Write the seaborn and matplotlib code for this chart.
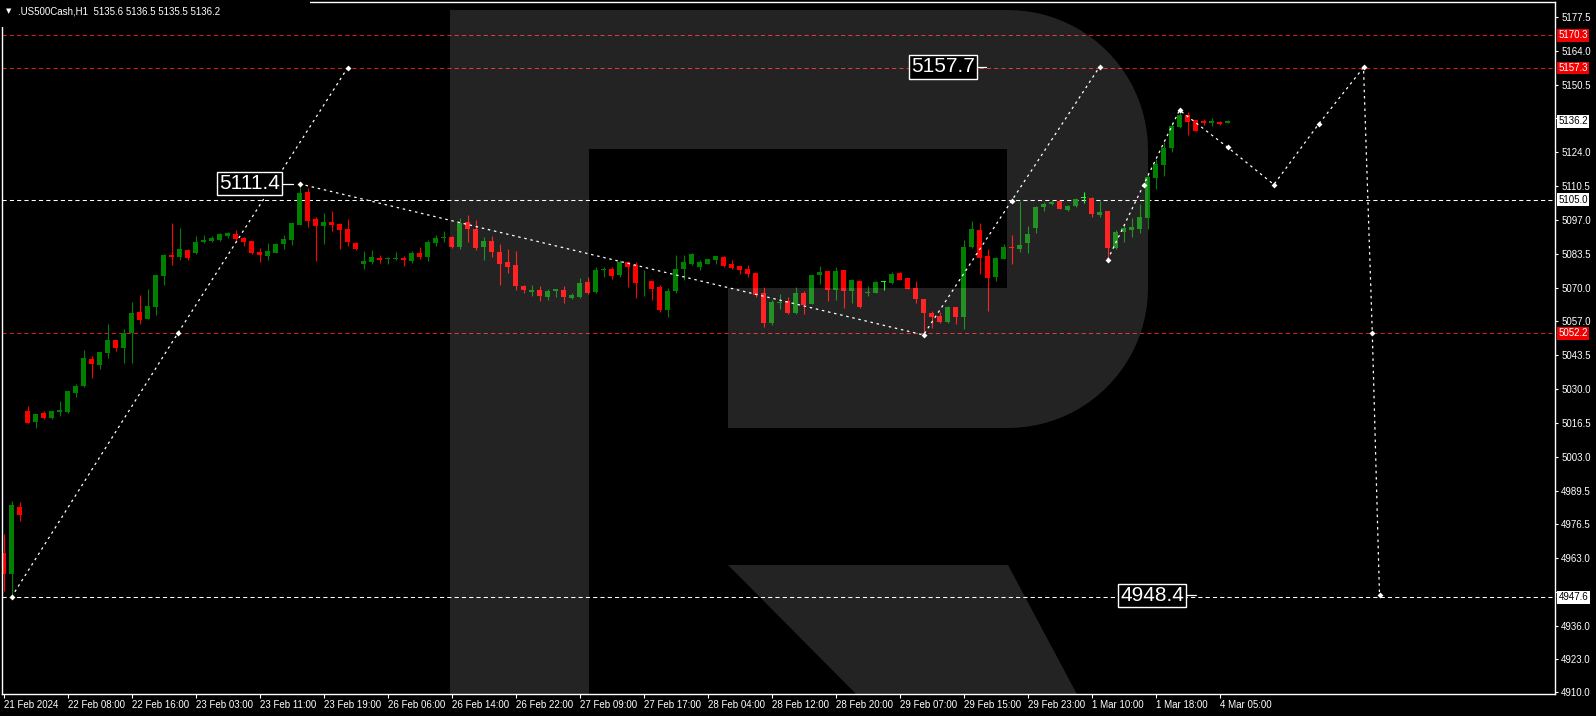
import numpy as np
import matplotlib
matplotlib.use("Agg")
import matplotlib.pyplot as plt
import matplotlib.transforms as mtransforms
from matplotlib.patches import Polygon, Rectangle
import seaborn as sns

# H1 candles (index 0 = first bar)
opens = [4965.2, 4956.7, 4983.3, 5021.4, 5017.1, 5020.4, 5018.7, 5021.1, 5021.0, 5028.6,
         5031.3, 5042.0, 5039.7, 5044.5, 5049.4, 5046.4, 5052.1, 5060.6, 5057.9, 5062.7,
         5075.0, 5083.2, 5082.5, 5085.2, 5084.0, 5088.5, 5088.9, 5089.1, 5090.7, 5091.5,
         5089.9, 5088.9, 5084.5, 5082.9, 5084.1, 5087.7, 5089.3, 5095.2, 5108.1, 5097.3,
         5094.8, 5096.3, 5095.5, 5093.5, 5087.9, 5079.5, 5080.4, 5082.0, 5081.7, 5081.6,
         5082.0, 5080.8, 5084.0, 5082.5, 5088.1, 5089.8, 5090.3, 5086.2, 5096.3, 5093.5,
         5086.5, 5088.7, 5084.4, 5080.4, 5079.2, 5070.9, 5068.6, 5069.3, 5066.4, 5069.0,
         5069.3, 5066.1, 5066.4, 5072.5, 5068.5, 5077.2, 5077.6, 5075.3, 5080.4, 5079.2,
         5072.3, 5072.9, 5070.5, 5061.4, 5068.9, 5077.6, 5079.6, 5078.4, 5079.6, 5081.2,
         5082.4, 5079.6, 5078.8, 5077.6, 5076.0, 5068.1, 5056.2, 5064.0, 5064.9, 5060.2,
         5068.1, 5063.8, 5075.3, 5076.8, 5069.3, 5077.2, 5068.9, 5072.9, 5068.3, 5068.1,
         5072.6, 5072.1, 5076.0, 5074.1, 5070.1, 5065.7, 5060.2, 5059.0, 5056.6, 5062.6,
         5058.6, 5086.3, 5093.1, 5082.8, 5074.5, 5081.6, 5086.3, 5085.6, 5087.9, 5093.9,
         5102.2, 5103.4, 5104.6, 5101.0, 5102.6, 5105.8, 5105.8, 5099.0, 5100.6, 5086.0,
         5092.3, 5093.1, 5093.5, 5097.8, 5113.7, 5118.8, 5125.6, 5133.9, 5138.7, 5136.7,
         5136.3, 5135.5, 5135.9, 5135.6]
highs = [4972.6, 4985.7, 4985.3, 5023.3, 5020.2, 5021.4, 5021.4, 5025.3, 5029.3, 5032.1,
         5045.5, 5043.2, 5044.7, 5055.8, 5049.4, 5053.7, 5064.4, 5067.3, 5069.7, 5075.3,
         5083.6, 5095.9, 5093.9, 5085.7, 5090.6, 5091.0, 5090.7, 5092.0, 5092.4, 5093.1,
         5090.4, 5088.9, 5085.8, 5087.9, 5088.1, 5091.1, 5096.3, 5111.4, 5109.6, 5098.1,
         5099.9, 5100.6, 5095.7, 5097.4, 5088.3, 5084.8, 5085.2, 5083.2, 5082.5, 5084.4,
         5082.9, 5084.8, 5086.2, 5089.0, 5091.1, 5092.7, 5090.6, 5097.8, 5099.0, 5097.0,
         5090.3, 5090.7, 5087.5, 5085.6, 5084.8, 5071.3, 5071.3, 5070.9, 5069.7, 5069.7,
         5071.0, 5068.0, 5073.9, 5074.5, 5078.4, 5078.4, 5078.4, 5081.2, 5080.8, 5080.4,
         5077.2, 5072.9, 5071.3, 5070.1, 5083.2, 5083.2, 5084.0, 5081.2, 5081.6, 5082.8,
         5082.8, 5081.2, 5078.8, 5079.2, 5076.0, 5070.5, 5065.4, 5067.7, 5066.5, 5070.5,
         5068.9, 5075.3, 5078.8, 5076.8, 5078.4, 5077.2, 5073.7, 5072.9, 5070.9, 5072.9,
         5072.9, 5076.5, 5076.5, 5074.1, 5072.9, 5065.7, 5061.0, 5060.6, 5063.0, 5062.6,
         5089.1, 5096.7, 5095.9, 5085.6, 5082.4, 5087.5, 5091.1, 5104.6, 5094.7, 5102.6,
         5104.2, 5105.0, 5104.6, 5103.0, 5105.8, 5108.2, 5106.2, 5104.6, 5100.6, 5093.1,
         5095.5, 5097.8, 5103.4, 5116.1, 5121.2, 5128.0, 5135.9, 5139.9, 5139.9, 5136.7,
         5137.1, 5137.5, 5136.3, 5136.5]
lows = [4950.1, 4947.6, 4977.9, 5016.6, 5014.7, 5018.3, 5018.3, 5019.5, 5020.4, 5026.8,
        5031.0, 5034.6, 5038.0, 5042.5, 5045.3, 5040.2, 5040.2, 5055.7, 5057.8, 5059.5,
        5071.4, 5079.2, 5081.3, 5081.3, 5083.7, 5088.1, 5088.5, 5088.9, 5089.8, 5088.5,
        5086.7, 5083.6, 5080.5, 5081.2, 5084.0, 5085.7, 5087.3, 5095.2, 5094.4, 5080.9,
        5087.7, 5092.7, 5085.7, 5086.7, 5085.0, 5077.8, 5079.7, 5080.1, 5079.7, 5081.1,
        5078.8, 5080.0, 5081.6, 5080.9, 5086.9, 5088.5, 5086.1, 5085.7, 5088.3, 5085.2,
        5081.2, 5082.5, 5071.3, 5076.2, 5069.3, 5068.3, 5067.1, 5065.0, 5065.3, 5066.7,
        5064.3, 5065.6, 5066.1, 5067.7, 5068.1, 5074.5, 5073.7, 5074.5, 5070.5, 5066.1,
        5066.9, 5065.3, 5060.6, 5058.6, 5068.1, 5073.3, 5079.2, 5077.2, 5079.6, 5079.6,
        5078.6, 5077.6, 5075.7, 5074.5, 5066.7, 5054.8, 5055.4, 5061.8, 5059.8, 5059.8,
        5059.8, 5063.8, 5071.7, 5064.9, 5065.3, 5062.2, 5064.2, 5062.2, 5066.9, 5068.1,
        5069.3, 5071.7, 5073.3, 5069.7, 5064.2, 5051.5, 5054.2, 5056.1, 5056.4, 5055.8,
        5054.0, 5086.0, 5075.7, 5061.0, 5072.9, 5081.6, 5079.6, 5084.4, 5084.0, 5091.9,
        5100.6, 5103.0, 5101.4, 5100.6, 5102.2, 5103.8, 5098.2, 5098.2, 5081.2, 5085.6,
        5088.3, 5090.3, 5091.9, 5093.5, 5109.3, 5114.5, 5124.0, 5133.5, 5130.7, 5132.3,
        5134.7, 5134.3, 5134.7, 5135.5]
closes = [4956.7, 4984.1, 4980.1, 5016.7, 5020.2, 5018.7, 5021.4, 5021.8, 5029.3, 5031.3,
          5042.4, 5040.1, 5044.7, 5049.5, 5046.4, 5052.1, 5060.1, 5057.4, 5063.0, 5075.3,
          5083.2, 5082.5, 5085.5, 5082.0, 5088.3, 5089.3, 5089.9, 5091.5, 5091.9, 5089.7,
          5088.5, 5084.0, 5083.2, 5084.8, 5087.5, 5089.5, 5095.9, 5107.8, 5096.8, 5094.8,
          5096.3, 5095.2, 5093.2, 5088.5, 5085.7, 5080.8, 5082.4, 5081.3, 5082.0, 5082.0,
          5081.3, 5084.0, 5082.5, 5088.3, 5089.9, 5090.3, 5086.5, 5095.9, 5093.6, 5086.1,
          5088.7, 5084.5, 5079.7, 5078.4, 5071.0, 5069.3, 5069.4, 5066.9, 5068.9, 5069.7,
          5066.5, 5067.3, 5072.1, 5068.1, 5077.2, 5077.6, 5075.0, 5080.4, 5078.4, 5072.1,
          5072.6, 5069.7, 5061.4, 5068.9, 5077.6, 5080.4, 5083.6, 5080.4, 5081.6, 5082.8,
          5078.8, 5078.0, 5077.2, 5075.7, 5067.3, 5056.2, 5064.6, 5064.7, 5060.2, 5068.1,
          5063.4, 5075.3, 5076.5, 5069.3, 5076.8, 5068.9, 5073.3, 5062.6, 5068.5, 5072.5,
          5072.6, 5075.7, 5073.3, 5069.7, 5065.7, 5060.2, 5058.6, 5056.6, 5062.6, 5058.6,
          5086.3, 5093.5, 5082.0, 5074.1, 5082.0, 5086.3, 5086.0, 5087.1, 5091.5, 5102.2,
          5103.4, 5104.2, 5101.4, 5102.6, 5105.4, 5105.8, 5099.4, 5100.2, 5086.0, 5092.3,
          5093.9, 5094.3, 5098.2, 5114.1, 5119.2, 5125.6, 5134.3, 5138.7, 5135.9, 5132.3,
          5135.5, 5136.3, 5135.1, 5136.2]

time_labels = ["21 Feb 2024", "22 Feb 08:00", "22 Feb 16:00", "23 Feb 03:00", "23 Feb 11:00",
               "23 Feb 19:00", "26 Feb 06:00", "26 Feb 14:00", "26 Feb 22:00", "27 Feb 09:00",
               "27 Feb 17:00", "28 Feb 04:00", "28 Feb 12:00", "28 Feb 20:00", "29 Feb 07:00",
               "29 Feb 15:00", "29 Feb 23:00", "1 Mar 10:00", "1 Mar 18:00", "4 Mar 05:00"]
price_ticks = [5177.5, 5164.0, 5150.5, 5137.5, 5124.0, 5110.5, 5097.0, 5083.5, 5070.0,
               5057.0, 5043.5, 5030.0, 5016.5, 5003.0, 4989.5, 4976.5, 4963.0, 4949.5,
               4936.0, 4923.0, 4910.0]
# tick labels hidden behind the price boxes on the scale
covered_ticks = [5137.5, 4949.5]

red_levels = [5170.3, 5157.3, 5052.2]
white_levels = [5105.0, 4947.6]
last_price = 5136.2

# forecast zigzag (bar index, price)
wave1_x = [1, 21.8, 43]
wave1_y = [4947.6, 5052.2, 5157.3]
wave2_x = [37, 115, 126, 137]
wave2_y = [5111.4, 5051.5, 5104.6, 5157.7]
wave3_x = [138, 142.5, 147, 153, 158.8, 164.4, 170, 171.1, 172]
wave3_y = [5081.2, 5110.9, 5140.6, 5125.9, 5111.1, 5135.1, 5157.5, 5052.2, 4948.4]

# boxed price labels (text, right edge bar index, connector end index)
big_labels = [("5111.4", 34.6, 36.2), ("5157.7", 121.4, 122.8), ("4948.4", 147.6, 149.0)]

sns.set_theme(style="dark", rc={"axes.facecolor": "black", "figure.facecolor": "black",
                                "axes.edgecolor": "white", "text.color": "white",
                                "xtick.color": "white", "ytick.color": "white",
                                "axes.grid": False})
plt.rcParams["font.family"] = ["Liberation Sans", "DejaVu Sans"]

W, H = 1596, 716
fig = plt.figure(figsize=(W / 100, H / 100), dpi=100)
ax = fig.add_axes([2 / W, 1 - 694 / H, 1553 / W, 692 / H])
ax.set_facecolor("black")

o = np.array(opens)
h = np.array(highs)
l = np.array(lows)
c = np.array(closes)
idx = np.arange(len(o))
cols = np.where(c > o, "#008000", np.where(c < o, "#ff0000", "#00ff00"))

ax.vlines(idx, l, h, colors=cols, lw=0.8, zorder=2)
ax.bar(idx, np.maximum(np.abs(c - o), 0.35), bottom=np.minimum(o, c), width=0.625,
       color=cols, linewidth=0, zorder=2)

for lv in red_levels:
    ax.axhline(lv, color="#d41c1c", lw=0.75, ls=(0, (4, 3)), zorder=1.5)
for lv in white_levels:
    ax.axhline(lv, color="white", lw=0.75, ls=(0, (4, 3)), zorder=1.5)

for wx, wy in [(wave1_x, wave1_y), (wave2_x, wave2_y), (wave3_x, wave3_y)]:
    sns.lineplot(x=wx, y=wy, ax=ax, sort=False, estimator=None, color="white",
                 lw=0.9, linestyle=(0, (2, 3)), zorder=3)
    sns.scatterplot(x=wx, y=wy, ax=ax, color="white", marker="D", s=9,
                    linewidth=0, zorder=3)

for txt, xr, xc in big_labels:
    p = float(txt)
    ax.plot([xr + 0.2, xc], [p, p], color="white", lw=0.9, zorder=4)
    ax.text(xr, p, txt, ha="right", va="center", fontsize=15, color="white", zorder=5,
            bbox=dict(boxstyle="square,pad=0.1", fc="black", ec="white", lw=1))

# watermark "R" drawn in reference pixel coordinates
T = mtransforms.Affine2D().scale(1 / 100, -1 / 100).translate(0, H / 100) + fig.dpi_scale_trans


def arc(cx, cy, r, a0, a1, n=24):
    t = np.radians(np.linspace(a0, a1, n))
    return list(zip(cx + r * np.cos(t), cy - r * np.sin(t)))


stem = [(450, 10), (589, 10), (589, 700), (450, 700)]
bowl = ([(589, 10), (1008, 10)] + arc(1008, 150, 140, 90, 0) + arc(1008, 288, 140, 0, -90)
        + [(728, 428), (728, 288), (1007, 288), (1007, 149), (589, 149)])
leg = [(728, 565), (1008, 565), (1080, 700), (862, 700)]
for shape in (stem, bowl, leg):
    ax.add_patch(Polygon(shape, closed=True, transform=T, fc="white", ec="none",
                         alpha=0.14, zorder=2.5))

ax.set_xlim((2 - 3.5) / 8, (1555 - 3.5) / 8)
ax.set_ylim(4909.2, 5183.45)

ax.set_xticks(np.arange(len(time_labels)) * 8)
ax.set_xticklabels(time_labels, ha="left", fontsize=7)
ax.tick_params(axis="x", bottom=True, length=3, width=0.8, colors="white", pad=1.5)
ax.yaxis.tick_right()
ax.set_yticks(price_ticks)
ax.set_yticklabels(["" if t in covered_ticks else f"{t:.1f}" for t in price_ticks], fontsize=7)
ax.tick_params(axis="y", right=True, left=False, length=2.5, width=0.8, colors="white", pad=2)
ax.set_xlabel("")
ax.set_ylabel("")
for s in ax.spines.values():
    s.set_color("white")
    s.set_linewidth(1)

blend = mtransforms.blended_transform_factory(ax.transAxes, ax.transData)
for lv in red_levels:
    ax.text(1.0022, lv, f"{lv:.1f}", transform=blend, ha="left", va="center", fontsize=7,
            color="white", zorder=6, clip_on=False,
            bbox=dict(boxstyle="square,pad=0.15", fc="#f00000", ec="none"))
for lv in white_levels + [last_price]:
    ax.text(1.0022, lv, f"{lv:.1f}", transform=blend, ha="left", va="center", fontsize=7,
            color="black", zorder=6, clip_on=False,
            bbox=dict(boxstyle="square,pad=0.15", fc="white", ec="none"))

# symbol header
fig.add_artist(Rectangle((0, 1 - 27 / H), 310 / W, 27 / H, transform=fig.transFigure,
                         fc="black", ec="none", zorder=5))
fig.text(6 / W, 1 - 11 / H, "\u25bc", fontsize=5, family="DejaVu Sans", color="white",
         va="center", zorder=6)
fig.text(18 / W, 1 - 11 / H, ".US500Cash,H1  5135.6 5136.5 5135.5 5136.2", fontsize=7,
         color="white", va="center", zorder=6)

fig.savefig("out.png", dpi=100, facecolor="black")
